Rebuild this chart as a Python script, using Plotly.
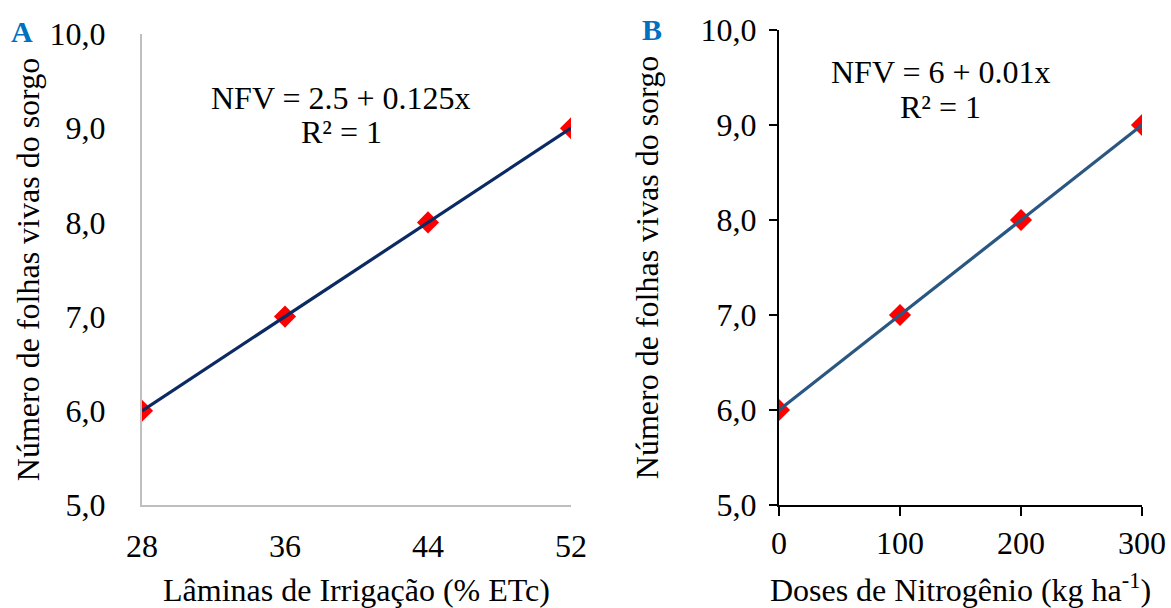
import plotly.graph_objects as go

# Panel A: irrigation depth vs. live leaves
laminas = [28, 36, 44, 52]
nfv_a = [6.0, 7.0, 8.0, 9.0]

# Panel B: nitrogen dose vs. live leaves
doses = [0, 100, 200, 300]
nfv_b = [6.0, 7.0, 8.0, 9.0]

y_ticks = [5, 6, 7, 8, 9, 10]
y_ticktext = ["5,0", "6,0", "7,0", "8,0", "9,0", "10,0"]

W, H = 1171, 608
FONT = "Liberation Serif"
TICK_SIZE = 32
TITLE_SIZE = 32


def px_x(p):
    return p / W


def px_y(p):
    return 1 - p / H


fig = go.Figure()

marker = dict(symbol="diamond", size=17, color="#ff0000", line=dict(width=0))

fig.add_trace(go.Scatter(x=laminas, y=nfv_a, mode="markers", marker=marker,
                         xaxis="x", yaxis="y", showlegend=False))
fig.add_trace(go.Scatter(x=laminas, y=nfv_a, mode="lines",
                         line=dict(color="#0b2a63", width=3.2),
                         xaxis="x", yaxis="y", showlegend=False))

fig.add_trace(go.Scatter(x=doses, y=nfv_b, mode="markers", marker=marker,
                         xaxis="x2", yaxis="y2", showlegend=False))
fig.add_trace(go.Scatter(x=doses, y=nfv_b, mode="lines",
                         line=dict(color="#2a5782", width=3.2),
                         xaxis="x2", yaxis="y2", showlegend=False))

tickfont = dict(family=FONT, size=TICK_SIZE, color="black")
titlefont = dict(family=FONT, size=TITLE_SIZE, color="black")


def note(text, x, y, font):
    return dict(text=text, x=px_x(x), y=px_y(y), xref="paper", yref="paper",
                xanchor="center", yanchor="middle", showarrow=False, font=font)


fig.update_layout(
    width=W, height=H,
    margin=dict(l=0, r=0, t=0, b=0, pad=0, autoexpand=False),
    paper_bgcolor="white", plot_bgcolor="white",
    font=dict(family=FONT, color="black"),
    xaxis=dict(
        domain=[px_x(142), px_x(571)], range=[28, 52],
        tickvals=laminas, ticktext=[str(v) for v in laminas],
        showgrid=False, zeroline=False, automargin=False,
        showline=True, linecolor="#bfbfbf", linewidth=2,
        ticks="", ticklabelstandoff=12, tickfont=tickfont,
        title=dict(text="Lâminas de Irrigação (% ETc)", font=titlefont, standoff=30),
        anchor="y",
    ),
    yaxis=dict(
        domain=[px_y(505), px_y(34)], range=[5, 10],
        tickvals=y_ticks, ticktext=y_ticktext,
        showgrid=False, zeroline=False, automargin=False,
        showline=True, linecolor="#bfbfbf", linewidth=2,
        ticks="", ticklabelstandoff=28, tickfont=tickfont,
        title=dict(text="Número de folhas vivas do sorgo", font=titlefont, standoff=0),
        anchor="x",
    ),
    xaxis2=dict(
        domain=[px_x(779), px_x(1142)], range=[0, 300],
        tickvals=doses, ticktext=[str(v) for v in doses],
        showgrid=False, zeroline=False, automargin=False,
        showline=True, linecolor="black", linewidth=2,
        ticks="outside", ticklen=9, tickwidth=2, tickcolor="black",
        ticklabelstandoff=0, tickfont=tickfont,
        title=dict(text="Doses de Nitrogênio (kg ha<sup>-1</sup>)", font=titlefont, standoff=22),
        anchor="y2",
    ),
    yaxis2=dict(
        domain=[px_y(505), px_y(30)], range=[5, 10],
        tickvals=y_ticks, ticktext=y_ticktext,
        showgrid=False, zeroline=False, automargin=False,
        showline=True, linecolor="black", linewidth=2,
        ticks="outside", ticklen=8, tickwidth=2, tickcolor="black",
        ticklabelstandoff=6, tickfont=tickfont,
        title=dict(text="Número de folhas vivas do sorgo", font=titlefont, standoff=32),
        anchor="x2",
    ),
    annotations=[
        note("<b>A</b>", 22, 32, dict(family=FONT, size=30, color="#0070c0")),
        note("<b>B</b>", 652, 29, dict(family=FONT, size=30, color="#0070c0")),
        note("NFV = 2.5 + 0.125x", 341, 98, titlefont),
        note("R² = 1", 341, 132, titlefont),
        note("NFV = 6 + 0.01x", 941, 72, titlefont),
        note("R² = 1", 941, 107, titlefont),
    ],
)

fig.write_html("out.html")
